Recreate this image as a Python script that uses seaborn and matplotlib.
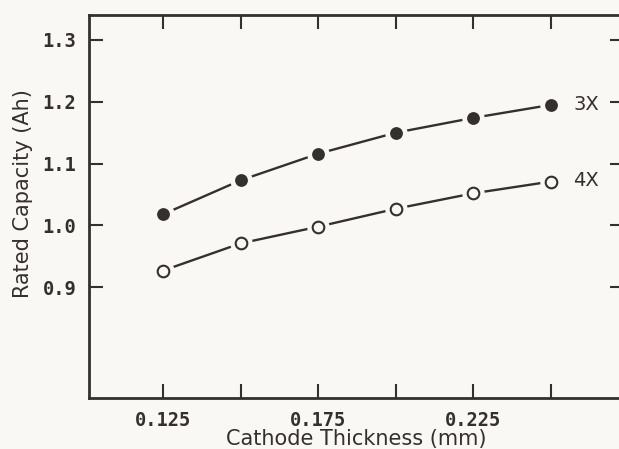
import numpy as np
import pandas as pd
import seaborn as sns
import matplotlib
matplotlib.use("Agg")
import matplotlib.pyplot as plt

# values
thickness = [0.125, 0.150, 0.175, 0.200, 0.225, 0.250]
cap_3x = [1.018, 1.073, 1.116, 1.150, 1.174, 1.195]
cap_4x = [0.927, 0.971, 0.998, 1.027, 1.052, 1.071]
series_names = ["3X", "4X"]
xticks = [0.125, 0.150, 0.175, 0.200, 0.225, 0.250]
xtick_labels = ["0.125", "", "0.175", "", "0.225", ""]
yticks = [0.9, 1.0, 1.1, 1.2, 1.3]

paper = "#faf8f4"
ink = "#34302e"

df = pd.DataFrame({
    "x": thickness * 2,
    "y": cap_3x + cap_4x,
    "series": [series_names[0]] * len(cap_3x) + [series_names[1]] * len(cap_4x),
})

sns.set_style("ticks")
plt.rcParams["font.family"] = ["DejaVu Sans"]

fig = plt.figure(figsize=(6.19, 4.49), dpi=100, facecolor=paper)
ax = fig.add_axes([89 / 619, 1 - 398 / 449, (624 - 89) / 619, (398 - 15) / 449])
ax.set_facecolor(paper)

sns.lineplot(data=df, x="x", y="y", hue="series", palette=[ink, ink],
             lw=1.7, legend=False, ax=ax, zorder=1)
# paper-coloured halos so the line segments stop short of the markers
sns.scatterplot(data=df, x="x", y="y", color=paper, s=260, linewidth=0,
                legend=False, ax=ax, zorder=2)
d3 = df[df.series == "3X"]
d4 = df[df.series == "4X"]
sns.scatterplot(data=d3, x="x", y="y", color=ink, s=85, linewidth=0,
                legend=False, ax=ax, zorder=3)
sns.scatterplot(data=d4, x="x", y="y", facecolor=paper, edgecolor=ink, s=70,
                linewidth=1.5, legend=False, ax=ax, zorder=3)

ax.text(0.2572, cap_3x[-1], "3X", fontsize=14, color=ink, va="center")
ax.text(0.2572, cap_4x[-1] + 0.002, "4X", fontsize=14, color=ink, va="center")

x0 = 0.125 - (163 - 89) / 77.6 * 0.025
x1 = 0.25 + (624 - 551) / 77.6 * 0.025
ax.set_xlim(x0, x1)
ax.set_ylim(0.9 - (398 - 287) / 62 * 0.1, 1.3 + (40 - 15) / 62 * 0.1)

ax.set_xticks(xticks)
ax.set_xticklabels(xtick_labels, family="DejaVu Sans Mono", fontsize=13.5,
                   fontweight="bold", color=ink)
ax.set_yticks(yticks)
ax.set_yticklabels([f"{v:.1f}" for v in yticks], family="DejaVu Sans Mono",
                   fontsize=13.5, fontweight="bold", color=ink)
ax.tick_params(direction="in", length=10, width=1.5, color=ink,
               top=True, right=True, pad=9)

for s in ax.spines.values():
    s.set_linewidth(2)
    s.set_color(ink)

ax.set_xlabel("Cathode Thickness (mm)", fontsize=15, color=ink, labelpad=0)
ax.set_ylabel("Rated Capacity (Ah)", fontsize=15, color=ink)
ax.yaxis.set_label_coords(-0.105, (398 - 194) / 383)

fig.savefig("out.png", dpi=100, facecolor=paper)
